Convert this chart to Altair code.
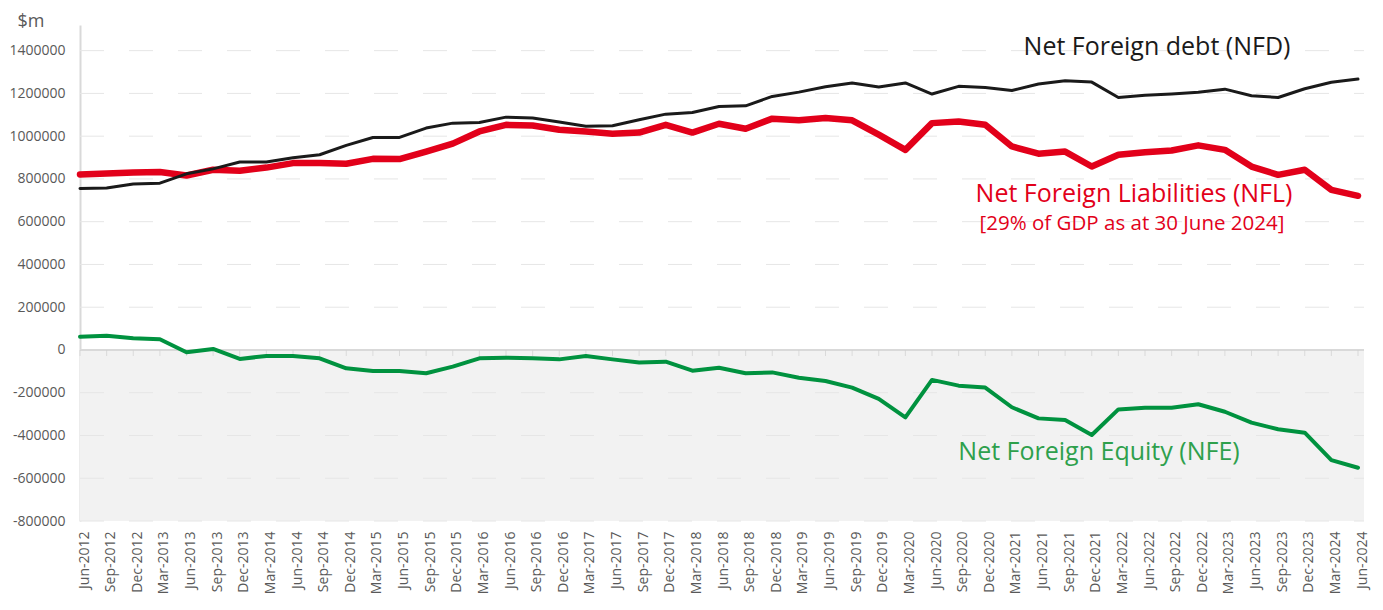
import altair as alt
import pandas as pd

quarters = [
    "Jun-2012", "Sep-2012", "Dec-2012", "Mar-2013", "Jun-2013", "Sep-2013", "Dec-2013",
    "Mar-2014", "Jun-2014", "Sep-2014", "Dec-2014", "Mar-2015", "Jun-2015", "Sep-2015",
    "Dec-2015", "Mar-2016", "Jun-2016", "Sep-2016", "Dec-2016", "Mar-2017", "Jun-2017",
    "Sep-2017", "Dec-2017", "Mar-2018", "Jun-2018", "Sep-2018", "Dec-2018", "Mar-2019",
    "Jun-2019", "Sep-2019", "Dec-2019", "Mar-2020", "Jun-2020", "Sep-2020", "Dec-2020",
    "Mar-2021", "Jun-2021", "Sep-2021", "Dec-2021", "Mar-2022", "Jun-2022", "Sep-2022",
    "Dec-2022", "Mar-2023", "Jun-2023", "Sep-2023", "Dec-2023", "Mar-2024", "Jun-2024",
]

nfd = [755000, 758000, 776000, 780000, 824000, 847000, 879000, 879000, 899000, 913000,
       957000, 994000, 994000, 1038000, 1061000, 1064000, 1089000, 1085000, 1066000, 1046000,
       1049000, 1077000, 1103000, 1111000, 1139000, 1142000, 1186000, 1206000, 1231000, 1249000,
       1230000, 1249000, 1197000, 1233000, 1228000, 1214000, 1244000, 1259000, 1253000, 1181000,
       1191000, 1197000, 1205000, 1220000, 1189000, 1181000, 1222000, 1252000, 1267000]

nfl = [821000, 825000, 830000, 832000, 816000, 843000, 838000, 853000, 874000, 874000,
       871000, 894000, 893000, 928000, 965000, 1022000, 1053000, 1050000, 1030000, 1022000,
       1011000, 1017000, 1053000, 1017000, 1058000, 1035000, 1082000, 1074000, 1085000, 1074000,
       1007000, 936000, 1061000, 1069000, 1053000, 952000, 918000, 928000, 858000, 913000,
       925000, 933000, 957000, 936000, 858000, 819000, 843000, 749000, 721000]

nfe = [62000, 66000, 55000, 50000, -11000, 5000, -42000, -28000, -28000, -39000,
       -86000, -98000, -98000, -109000, -78000, -39000, -36000, -39000, -44000, -28000,
       -44000, -59000, -55000, -97000, -83000, -109000, -105000, -130000, -145000, -176000,
       -229000, -315000, -140000, -167000, -176000, -268000, -320000, -328000, -398000, -278000,
       -270000, -270000, -254000, -289000, -340000, -371000, -387000, -515000, -551000]

y_ticks = [-800000, -600000, -400000, -200000, 0, 200000, 400000, 600000, 800000,
           1000000, 1200000, 1400000]
grid_values = [v for v in y_ticks if v != 0]

FONT = "Open Sans"
W = 1284
H = 496

df = pd.DataFrame({"quarter": quarters, "NFD": nfd, "NFL": nfl, "NFE": nfe})
long = df.melt("quarter", var_name="series", value_name="value")

xscale = alt.Scale(type="point", domain=quarters, range=[0, 1278], padding=0)
yscale = alt.Scale(domain=[-800000, 1520000], nice=False, zero=False)

xaxis = alt.Axis(title=None, labelAngle=270, domain=False, ticks=False, grid=False,
                 labelColor="#595959", labelFontSize=14, labelFont=FONT,
                 labelPadding=10, labelOffset=4)
yaxis = alt.Axis(title=None, values=y_ticks, labelExpr="datum.value + ''", grid=False,
                 ticks=False, domain=True, domainColor="#d9d9d9", domainWidth=2,
                 labelColor="#595959", labelFontSize=14, labelFont=FONT, labelPadding=15)

X = alt.X("quarter:N", scale=xscale, sort=quarters, axis=xaxis)

neg_bg = alt.Chart(pd.DataFrame({"a": [0]})).mark_rect(color="#f2f2f2").encode(
    x=alt.value(0), x2=alt.value(W), y=alt.datum(0), y2=alt.datum(-800000)
)

grid = alt.Chart(pd.DataFrame({"v": grid_values})).mark_rule(
    color="#e6e6e6", strokeWidth=1, strokeDash=[24, 25]
).encode(y=alt.Y("v:Q", scale=yscale, axis=yaxis), x=alt.value(0), x2=alt.value(W))

zero = alt.Chart(pd.DataFrame({"a": [0]})).mark_rule(color="#d9d9d9", strokeWidth=2).encode(
    y=alt.datum(0), x=alt.value(0), x2=alt.value(W)
)

ticks = alt.Chart(df).mark_tick(orient="vertical", size=6, thickness=1, color="#d0d0d0",
                                yOffset=3).encode(x=X, y=alt.datum(0))


def series_line(name, color, width):
    return alt.Chart(long).transform_filter(alt.datum.series == name).mark_line(
        color=color, strokeWidth=width, strokeJoin="round", strokeCap="round"
    ).encode(x=X, y=alt.Y("value:Q", scale=yscale, axis=yaxis))


red_line = series_line("NFL", "#e2001a", 6.5)
black_line = series_line("NFD", "#1a1a1a", 3)
green_line = series_line("NFE", "#00923f", 4)


def label(text, x, y, color, size):
    return alt.Chart(pd.DataFrame({"t": [text]})).mark_text(
        text=text, color=color, fontSize=size, font=FONT, align="center", baseline="alphabetic"
    ).encode(x=alt.value(x), y=alt.value(y))


ann = [
    label("Net Foreign debt (NFD)", 1077, 30, "#1a1a1a", 25),
    label("Net Foreign Liabilities (NFL)", 1054, 177, "#e2001a", 25),
    label("[29% of GDP as at 30 June 2024]", 1052, 205, "#e2001a", 20.5),
    label("Net Foreign Equity (NFE)", 1019, 435, "#2ea04c", 25),
]

unit = alt.Chart(pd.DataFrame({"t": ["$m"]})).mark_text(
    text="$m", color="#595959", fontSize=18, font=FONT, align="center", baseline="alphabetic"
).encode(x=alt.value(-49), y=alt.value(2))

chart = alt.layer(
    neg_bg, grid, zero, ticks, red_line, black_line, green_line, *ann, unit
).properties(
    width=W, height=H,
    background="white",
    autosize=alt.AutoSizeParams(type="none"),
    padding={"left": 72, "top": 17, "right": 10, "bottom": 80},
).configure_view(strokeWidth=0, stroke="transparent")

chart.save("out.html", embed_options={"renderer": "svg", "actions": False})
